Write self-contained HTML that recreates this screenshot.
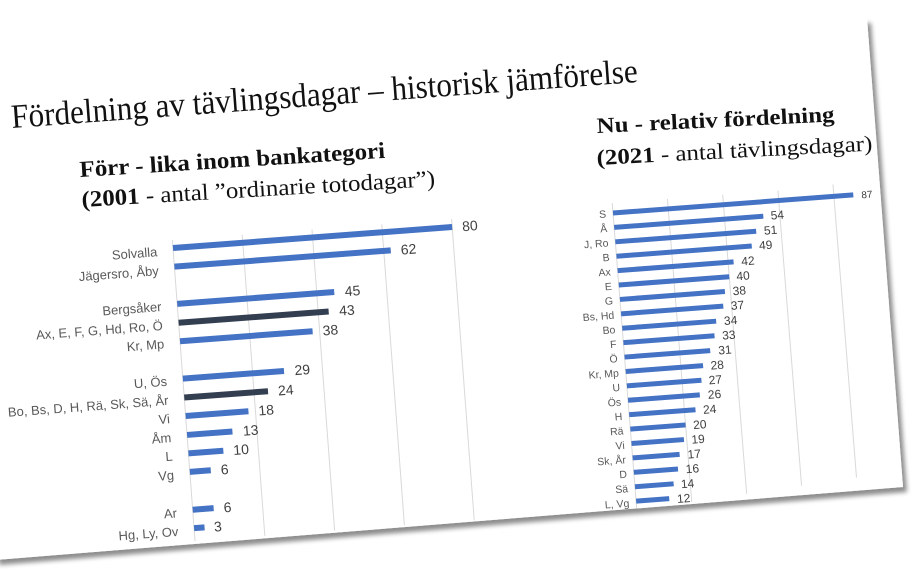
<!DOCTYPE html>
<html><head><meta charset="utf-8"><style>
html,body{margin:0;padding:0;background:#fff;width:915px;height:577px;overflow:hidden}
svg{display:block}
.lbl{font-family:"Liberation Sans",sans-serif;fill:#595959}
.val{font-family:"Liberation Sans",sans-serif;fill:#404040}
.ser{font-family:"Liberation Serif",serif;fill:#111}
</style></head><body>
<svg width="915" height="577" viewBox="0 0 915 577" xmlns="http://www.w3.org/2000/svg">
<defs>
<filter id="sh" x="-5%" y="-5%" width="110%" height="115%">
<feGaussianBlur in="SourceAlpha" stdDeviation="2.5"/>
<feOffset dx="4" dy="5"/>
<feComponentTransfer><feFuncA type="linear" slope="0.45"/></feComponentTransfer>
<feMerge><feMergeNode/><feMergeNode in="SourceGraphic"/></feMerge>
</filter>
</defs>
<polygon points="-40,86 867,18 903,487 -5,560" fill="#fff" filter="url(#sh)"/>
<polygon points="-40,-10 863,-10 863,24 -40,92" fill="#fff"/>

<text class="ser" x="0" y="0" font-size="34" textLength="628" lengthAdjust="spacingAndGlyphs" transform="translate(12,128) rotate(-4.2)">Fördelning av tävlingsdagar – historisk jämförelse</text>

<text class="ser" font-weight="bold" font-size="23" textLength="306" lengthAdjust="spacingAndGlyphs" transform="translate(80,177) rotate(-3.6)">Förr - lika inom bankategori</text>
<text class="ser" font-size="23" textLength="354" lengthAdjust="spacingAndGlyphs" transform="translate(82,207) rotate(-3.4)"><tspan font-weight="bold">(2001</tspan> - antal ”ordinarie totodagar”)</text>

<text class="ser" font-weight="bold" font-size="22" textLength="238" lengthAdjust="spacingAndGlyphs" transform="translate(597,133) rotate(-2.8)">Nu - relativ fördelning</text>
<text class="ser" font-size="22" textLength="276" lengthAdjust="spacingAndGlyphs" transform="translate(597,165) rotate(-3)"><tspan font-weight="bold">(2021</tspan> - antal tävlingsdagar)</text>

<!-- Left chart -->
<g transform="matrix(0.997,-0.075,0.075,0.997,173,248)">
<g stroke="#d9d9d9" stroke-width="1">
<line x1="0" y1="-8" x2="0" y2="294"/>
<line x1="70" y1="-8" x2="70" y2="294"/>
<line x1="140" y1="-8" x2="140" y2="294"/>
<line x1="210" y1="-8" x2="210" y2="294"/>
<line x1="280" y1="-8" x2="280" y2="294"/>
</g>
<g fill="#4472c4">
<rect x="0" y="-3" width="280" height="6"/>
<rect x="0" y="15.7" width="217" height="6"/>
<rect x="0" y="53" width="157.5" height="6"/>
<rect x="0" y="90.5" width="133" height="6"/>
<rect x="0" y="128" width="101.5" height="6"/>
<rect x="0" y="165.5" width="63" height="6"/>
<rect x="0" y="184.5" width="45.5" height="6"/>
<rect x="0" y="203" width="35" height="6"/>
<rect x="0" y="221.5" width="21" height="6"/>
<rect x="0" y="259.5" width="21" height="6"/>
<rect x="0" y="278" width="10.5" height="6"/>
</g>
<g fill="#333f50">
<rect x="0" y="72" width="150.5" height="6"/>
<rect x="0" y="147" width="84" height="6"/>
</g>
<g class="val" font-size="14">
<text x="290" y="5">80</text>
<text x="227" y="23.7">62</text>
<text x="168" y="61">45</text>
<text x="161" y="80">43</text>
<text x="143" y="98.5">38</text>
<text x="112" y="136">29</text>
<text x="94" y="155">24</text>
<text x="73" y="173.5">18</text>
<text x="56" y="192.5">13</text>
<text x="45" y="211">10</text>
<text x="31" y="229.5">6</text>
<text x="31" y="267.5">6</text>
<text x="20" y="286">3</text>
</g>
<g class="lbl" font-size="13" text-anchor="end">
<text x="-16" y="7">Solvalla</text>
<text x="-16" y="26">Jägersro, Åby</text>
<text x="-16" y="62">Bergsåker</text>
<text x="-16" y="81">Ax, E, F, G, Hd, Ro, Ö</text>
<text x="-16" y="99.5">Kr, Mp</text>
<text x="-16" y="137">U, Ös</text>
<text x="-16" y="156">Bo, Bs, D, H, Rä, Sk, Sä, År</text>
<text x="-16" y="174.5">Vi</text>
<text x="-16" y="193.5">Åm</text>
<text x="-16" y="212">L</text>
<text x="-16" y="231">Vg</text>
<text x="-16" y="269">Ar</text>
<text x="-16" y="287.5">Hg, Ly, Ov</text>
</g>
</g>

<!-- Right chart -->
<g transform="matrix(0.997,-0.075,0.08,0.997,613,213)">
<g stroke="#d9d9d9" stroke-width="1">
<line x1="0" y1="-10" x2="0" y2="296"/>
<line x1="55.4" y1="-10" x2="55.4" y2="294"/>
<line x1="110.8" y1="-10" x2="110.8" y2="290"/>
<line x1="166.2" y1="-10" x2="166.2" y2="286"/>
<line x1="221.6" y1="-12" x2="221.6" y2="282"/>
</g>
<g fill="#4472c4">
<rect x="0" y="-2.5" width="241" height="5"/>
<rect x="0" y="11.95" width="149.6" height="5"/>
<rect x="0" y="26.4" width="141.3" height="5"/>
<rect x="0" y="40.85" width="135.7" height="5"/>
<rect x="0" y="55.3" width="116.3" height="5"/>
<rect x="0" y="69.75" width="110.8" height="5"/>
<rect x="0" y="84.2" width="105.3" height="5"/>
<rect x="0" y="98.65" width="102.5" height="5"/>
<rect x="0" y="113.1" width="94.2" height="5"/>
<rect x="0" y="127.55" width="91.4" height="5"/>
<rect x="0" y="142" width="85.9" height="5"/>
<rect x="0" y="156.45" width="77.6" height="5"/>
<rect x="0" y="170.9" width="74.8" height="5"/>
<rect x="0" y="185.35" width="72" height="5"/>
<rect x="0" y="199.8" width="66.5" height="5"/>
<rect x="0" y="214.25" width="55.4" height="5"/>
<rect x="0" y="228.7" width="52.6" height="5"/>
<rect x="0" y="243.15" width="47.1" height="5"/>
<rect x="0" y="257.6" width="44.3" height="5"/>
<rect x="0" y="272.05" width="38.8" height="5"/>
<rect x="0" y="286.5" width="33.2" height="5"/>
</g>
<g class="val" font-size="12">
<text x="249" y="4" font-size="10">87</text>
<text x="157" y="18.5">54</text>
<text x="149" y="33">51</text>
<text x="143" y="47.5">49</text>
<text x="124" y="62">42</text>
<text x="118" y="76.5">40</text>
<text x="113" y="91">38</text>
<text x="110" y="105.5">37</text>
<text x="102" y="120">34</text>
<text x="99" y="134.5">33</text>
<text x="94" y="149">31</text>
<text x="85" y="163.5">28</text>
<text x="82" y="178">27</text>
<text x="80" y="192.5">26</text>
<text x="74" y="207">24</text>
<text x="63" y="221.5">20</text>
<text x="60" y="236">19</text>
<text x="55" y="250.5">17</text>
<text x="52" y="265">16</text>
<text x="46" y="279.5">14</text>
<text x="41" y="294">12</text>
</g>
<g class="lbl" font-size="10.5" text-anchor="end">
<text x="-7" y="4">S</text>
<text x="-7" y="18.5">Å</text>
<text x="-7" y="33">J, Ro</text>
<text x="-7" y="47.5">B</text>
<text x="-7" y="62">Ax</text>
<text x="-7" y="76.5">E</text>
<text x="-7" y="91">G</text>
<text x="-7" y="105.5">Bs, Hd</text>
<text x="-7" y="120">Bo</text>
<text x="-7" y="134.5">F</text>
<text x="-7" y="149">Ö</text>
<text x="-7" y="163.5">Kr, Mp</text>
<text x="-7" y="178">U</text>
<text x="-7" y="192.5">Ös</text>
<text x="-7" y="207">H</text>
<text x="-7" y="221.5">Rä</text>
<text x="-7" y="236">Vi</text>
<text x="-7" y="250.5">Sk, År</text>
<text x="-7" y="265">D</text>
<text x="-7" y="279.5">Sä</text>
<text x="-7" y="294">L, Vg</text>
</g>
</g>
</svg>
</body></html>
